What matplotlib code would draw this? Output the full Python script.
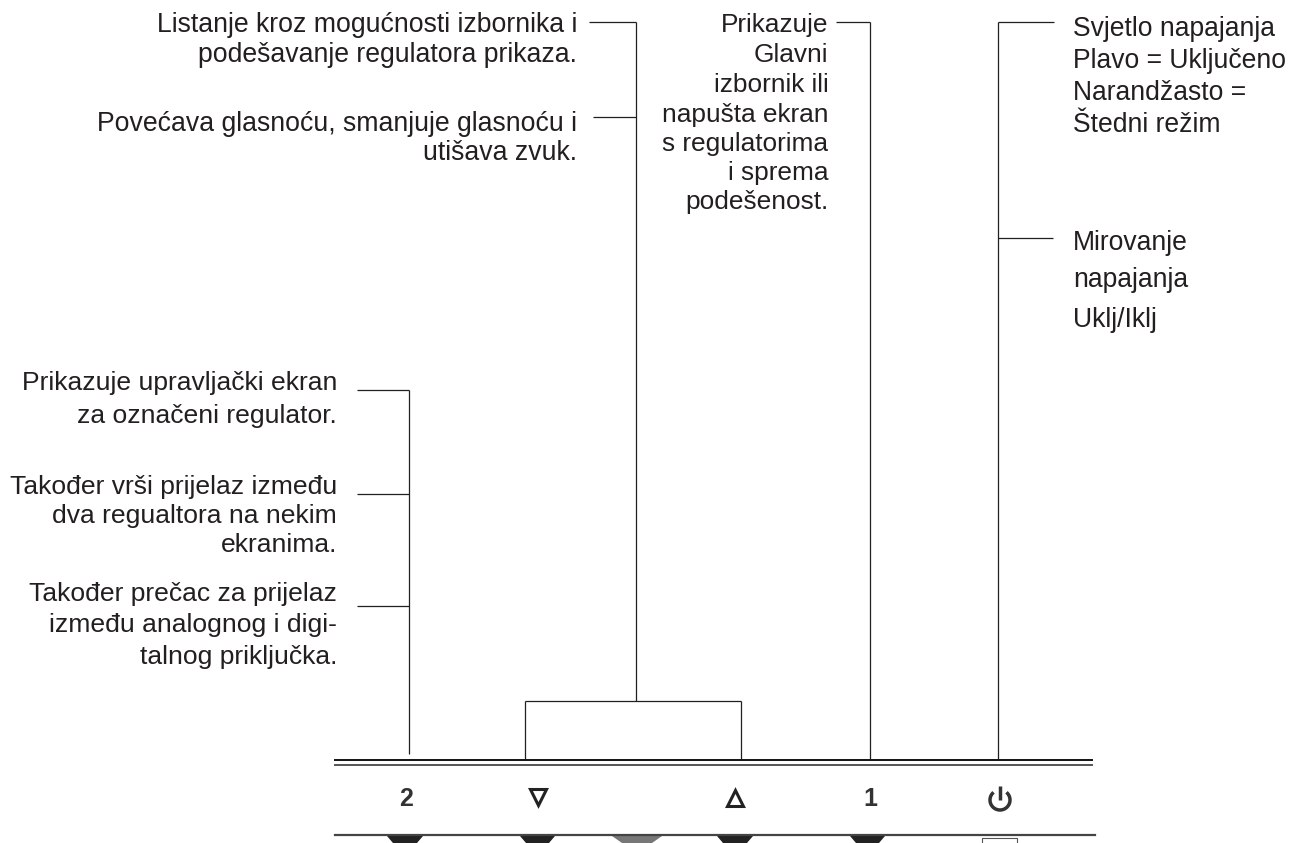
import matplotlib
matplotlib.use("Agg")
import matplotlib.pyplot as plt
from matplotlib.patches import Arc, Polygon

# text blocks: lines and baselines (pixels in the reference)
left_lines = [
    "Prikazuje upravljački ekran", "za označeni regulator.",
    "Također vrši prijelaz između", "dva regualtora na nekim", "ekranima.",
    "Također prečac za prijelaz", "između analognog i digi-", "talnog priključka.",
]
left_base = [390, 423, 494, 523, 552, 601, 632, 664]

mid_lines = [
    "Listanje kroz mogućnosti izbornika i", "podešavanje regulatora prikaza.",
    "Povećava glasnoću, smanjuje glasnoću i", "utišava zvuk.",
]
mid_base = [32, 62, 131, 160]

menu_lines = ["Prikazuje", "Glavni", "izbornik ili", "napušta ekran",
              "s regulatorima", "i sprema", "podešenost."]
menu_base = [32, 62, 92, 122, 151, 180, 209]

right_lines = ["Svjetlo napajanja", "Plavo = Uključeno", "Narandžasto =", "Štedni režim",
               "Mirovanje", "napajanja", "Uklj/Iklj"]
right_base = [36, 68, 100, 132, 250, 287, 327]

# leader lines
verticals = [(409, 390, 754), (636, 22, 701), (525, 701, 759), (741, 701, 759),
             (870, 22, 759), (998, 22, 759)]
horizontals = [(357, 409, 390), (357, 409, 494), (357, 409, 606),
               (589, 636, 22), (593, 636, 117), (525, 741, 701),
               (836, 870, 22), (998, 1054, 22), (998, 1053, 238)]

# bezel
bezel_x = [335, 1092]
bezel_y = [760, 765]
foot_x = [335, 1095]
foot_y = 835
buttons = [(387, 423), (520, 555), (717, 753), (850, 885)]
center_button = (612, 662)

plt.rcParams["font.family"] = ["Liberation Sans", "DejaVu Sans"]
fig = plt.figure(figsize=(12.92, 8.43), dpi=100)
ax = fig.add_axes([0, 0, 1, 1])
ax.set_xlim(0, 1292)
ax.set_ylim(843, 0)
ax.axis("off")

text_col = "#231f20"
for t, y in zip(left_lines, left_base):
    ax.text(337, y, t, ha="right", va="baseline", fontsize=19.05, color=text_col)
for t, y in zip(mid_lines, mid_base):
    ax.text(577, y, t, ha="right", va="baseline", fontsize=19.2, color=text_col)
for t, y in zip(menu_lines, menu_base):
    ax.text(828.5, y, t, ha="right", va="baseline", fontsize=18.9, color=text_col)
for t, y in zip(right_lines, right_base):
    ax.text(1073, y, t, ha="left", va="baseline", fontsize=19.1, color=text_col)

for x, y0, y1 in verticals:
    ax.plot([x, x], [y0, y1], color="#231f20", lw=0.9, solid_capstyle="butt")
for x0, x1, y in horizontals:
    ax.plot([x0, x1], [y, y], color="#231f20", lw=0.9, solid_capstyle="butt")

ax.plot(bezel_x, [bezel_y[0]] * 2, color="#111111", lw=1.4)
ax.plot(bezel_x, [bezel_y[1]] * 2, color="#555555", lw=1.4)
ax.plot(foot_x, [foot_y] * 2, color="#444444", lw=1.6)

for x0, x1 in buttons:
    ax.add_patch(Polygon([(x0, 836), (x1, 836), (x1 - 6, 843), (x0 + 6, 843)],
                         closed=True, color="#222222", lw=0))
x0, x1 = center_button
ax.add_patch(Polygon([(x0, 836), (x1, 836), (x1 - 10, 843), (x0 + 10, 843)],
                     closed=True, color="#777777", lw=0))
# small connector box under the power key
ax.plot([982, 982, 1017, 1017], [843, 838, 838, 843], color="#555555", lw=0.8)

# key labels
ax.text(406, 799, "2", ha="center", va="center", fontsize=18, fontweight="bold", color="#333333")
ax.text(870, 799, "1", ha="center", va="center", fontsize=18, fontweight="bold", color="#333333")
ax.plot([537.5], [797], marker="v", ms=11, mfc="white", mec="#222222", mew=2.2)
ax.plot([735], [798], marker="^", ms=11, mfc="white", mec="#222222", mew=2.2)

# power symbol
ax.add_patch(Arc((1000, 800), 20, 20, theta1=-50, theta2=230, angle=0,
                 color="#333333", lw=2.5))
ax.plot([1000, 1000], [786, 800], color="#333333", lw=2.5, solid_capstyle="butt")

fig.savefig("out.png", dpi=100)
